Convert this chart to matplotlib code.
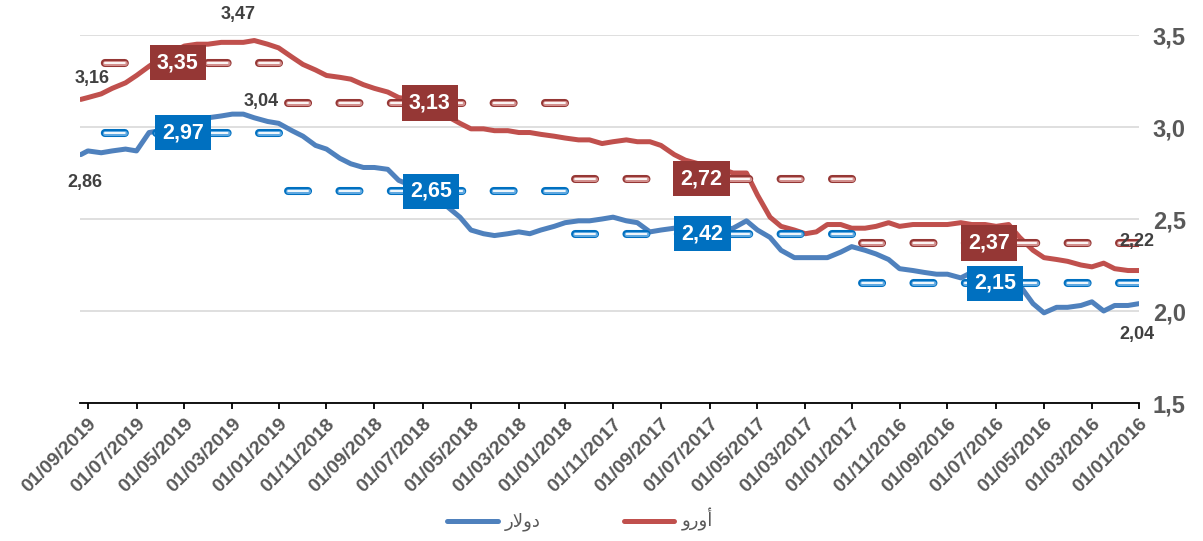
import matplotlib
matplotlib.use('Agg')
import matplotlib.pyplot as plt
import pandas as pd

plt.rcParams['font.family'] = ['Liberation Sans', 'DejaVu Sans']
plt.rcParams['lines.scale_dashes'] = False

# semi-monthly readings (1st and 15th), Jan 2016 .. Sep 2019, plus last day
dates = list(pd.date_range('2016-01-01', '2019-09-01', freq='SMS')) + [pd.Timestamp('2019-09-10')]

dollar = [2.04, 2.03, 2.03, 2.00, 2.05, 2.03, 2.02, 2.02, 1.99, 2.04, 2.14, 2.18,
          2.21, 2.22, 2.21, 2.18, 2.20, 2.20, 2.21, 2.22, 2.23, 2.28, 2.31, 2.33,
          2.35, 2.32, 2.29, 2.29, 2.29, 2.29, 2.33, 2.40, 2.44, 2.49, 2.45, 2.44,
          2.43, 2.43, 2.44, 2.45, 2.44, 2.43, 2.48, 2.49, 2.51, 2.50, 2.49, 2.49,
          2.48, 2.46, 2.44, 2.42, 2.43, 2.42, 2.41, 2.42, 2.44, 2.51, 2.57, 2.62,
          2.65, 2.68, 2.71, 2.77, 2.78, 2.78, 2.80, 2.83, 2.88, 2.90, 2.95, 2.98,
          3.02, 3.03, 3.05, 3.07, 3.07, 3.06, 3.05, 3.03, 3.01, 2.99, 2.98, 2.97,
          2.87, 2.88, 2.87, 2.86, 2.87, 2.85]

euro = [2.22, 2.22, 2.23, 2.26, 2.24, 2.25, 2.27, 2.28, 2.29, 2.33, 2.40, 2.47,
        2.46, 2.47, 2.47, 2.48, 2.47, 2.47, 2.47, 2.47, 2.46, 2.48, 2.46, 2.45,
        2.45, 2.47, 2.47, 2.43, 2.42, 2.44, 2.46, 2.51, 2.63, 2.75, 2.75, 2.77,
        2.78, 2.80, 2.82, 2.85, 2.90, 2.92, 2.92, 2.93, 2.92, 2.91, 2.93, 2.93,
        2.94, 2.95, 2.96, 2.97, 2.97, 2.98, 2.98, 2.99, 2.99, 3.02, 3.06, 3.10,
        3.13, 3.15, 3.16, 3.19, 3.21, 3.23, 3.26, 3.27, 3.28, 3.31, 3.34, 3.38,
        3.43, 3.45, 3.47, 3.46, 3.46, 3.46, 3.45, 3.45, 3.44, 3.41, 3.37, 3.33,
        3.28, 3.24, 3.21, 3.18, 3.16, 3.15]

years = [2016, 2017, 2018, 2019]
dollar_avg = [2.15, 2.42, 2.65, 2.97]
euro_avg = [2.37, 2.72, 3.13, 3.35]

names = ['دولار', 'أورو']
line_colors = ['#4F81BD', '#C0504D']
box_colors = ['#0070C0', '#953735']
dash_fill = ['#5FA8E0', '#D28F8D']
# nudge of the average boxes from the middle of each year (px)
box_dx = [[0, -6, 9, 3], [-6, -7, 8, -2]]

# (series, date index, text, offset in px)
point_labels = [(1, 74, '3,47', (-16, 26)),
                (1, 89, '3,16', (11, 21)),
                (0, 73, '3,04', (-6, 20)),
                (0, 89, '2,86', (4, -28)),
                (1, 0, '2,22', (-2, 29)),
                (0, 0, '2,04', (-2, -31))]


def ar(s):
    # matplotlib does no arabic shaping: lam-alef ligature + visual order
    return s.replace('لا', '\ufefb')[::-1]


fig = plt.figure(figsize=(12.03, 5.41), dpi=100)
ax = fig.add_axes([80 / 1203, 1 - 403 / 541, 1059 / 1203, 368 / 541])

series = [dollar, euro]
handles = []
for vals, c, n in zip(series, line_colors, names):
    h, = ax.plot(dates, vals, color=c, lw=3.6, solid_capstyle='round',
                 solid_joinstyle='round', zorder=3, label=ar(n))
    handles.append(h)

# yearly averages as hollow dashes
end_date = dates[-1]
dash = (0, (14.4, 22.6))
for k, (avgs, bc, fc) in enumerate(zip([dollar_avg, euro_avg], box_colors, dash_fill)):
    for j, (yr, v) in enumerate(zip(years, avgs)):
        start = pd.Timestamp(f'{yr}-01-01')
        stop = min(pd.Timestamp(f'{yr + 1}-01-01'), end_date)
        for col, lw, z in [(bc, 5.8, 4), (fc, 3.6, 4.1), ('white', 1.3, 4.2)]:
            ax.plot([start, stop], [v, v], color=col, lw=lw, dash_capstyle='round',
                    linestyle=dash, zorder=z)
        mid = start + (stop - start) / 2
        ax.annotate(f'{v:.2f}'.replace('.', ','), (mid, v),
                    xytext=(box_dx[k][j] * 0.72, 0),
                    textcoords='offset points', ha='center', va='center',
                    fontsize=15.5, fontweight='bold', color='white', zorder=6,
                    bbox=dict(boxstyle='square,pad=0.33', fc=bc, ec='none'))

for s, i, txt, (dx, dy) in point_labels:
    ax.annotate(txt, (dates[i], series[s][i]), xytext=(dx * 0.72, dy * 0.72),
                textcoords='offset points', ha='center', va='center',
                fontsize=13, fontweight='bold', color='#404040',
                annotation_clip=False, zorder=6)

ax.set_xlim(pd.Timestamp('2019-09-11'), pd.Timestamp('2016-01-01'))
ax.set_ylim(1.5, 3.5)

ticks = pd.date_range('2016-01-01', '2019-09-01', freq='2MS')
ax.set_xticks(ticks)
ax.set_xticklabels([t.strftime('%d/%m/%Y') for t in ticks], rotation=45,
                   ha='right', va='top', rotation_mode='anchor',
                   fontsize=14, fontweight='bold', color='#595959')
ax.tick_params(axis='x', direction='out', length=4, width=1.3, color='black', pad=5)

ax.set_yticks([1.5, 2.0, 2.5, 3.0, 3.5])
ax.set_yticklabels(['1,5', '2,0', '2,5', '3,0', '3,5'], fontsize=17,
                   fontweight='bold', color='#595959')
ax.yaxis.tick_right()
ax.tick_params(axis='y', length=0, pad=10)
ax.grid(axis='y', color='#D9D9D9', lw=1.2)
ax.set_axisbelow(True)

for sp in ['top', 'left', 'right']:
    ax.spines[sp].set_visible(False)
ax.spines['bottom'].set_color('black')
ax.spines['bottom'].set_linewidth(1.3)
ax.spines['bottom'].set_zorder(7)

leg = fig.legend(handles=handles, loc='center', bbox_to_anchor=(0.482, 0.039),
                 ncol=2, frameon=False, handlelength=2.8, columnspacing=4.6,
                 handletextpad=0.4, prop={'family': ['DejaVu Sans'], 'size': 13})
for t in leg.get_texts():
    t.set_color('#595959')

fig.savefig('out.png', dpi=100)
